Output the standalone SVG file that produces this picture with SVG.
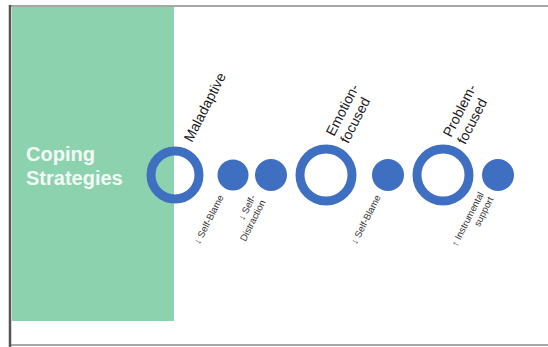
<svg xmlns="http://www.w3.org/2000/svg" width="548" height="347" viewBox="0 0 548 347">
  <style>
    .ring { fill: none; stroke: #3f6fc1; stroke-width: 9; }
    .dot { fill: #3f6fc1; }
    .head { font-family: "Liberation Sans", Arial, sans-serif; font-size: 14px; fill: #1a1a1a; }
    .note { font-family: "Liberation Sans", Arial, sans-serif; font-size: 9.5px; fill: #333; text-anchor: end; }
    .title { font-family: "Liberation Sans", Arial, sans-serif; font-size: 20px; font-weight: bold; fill: #f4fbf6; }
  </style>

  <!-- page frame -->
  <rect x="0" y="0" width="548" height="347" fill="#ffffff"/>
  <rect x="10" y="6" width="545" height="339" fill="#ffffff" stroke="#8a8a8a" stroke-width="1.5"/>
  <line x1="10" y1="5" x2="10" y2="347" stroke="#555" stroke-width="2.5"/>

  <!-- title panel -->
  <g id="panel">
    <rect x="12" y="7" width="162" height="314" fill="#8dd2ae"/>
    <text class="title" x="26" y="161">Coping</text>
    <text class="title" x="26" y="185">Strategies</text>
  </g>

  <!-- strategy groups -->
  <g id="maladaptive">
    <circle class="ring" cx="175" cy="175" r="24"/>
    <text class="head" transform="translate(192,143) rotate(-63)">Maladaptive</text>
  </g>
  <g id="self-blame-1">
    <circle class="dot" cx="233" cy="175" r="15.5"/>
    <text class="note" transform="translate(224,197) rotate(-63)">↓ Self-Blame</text>
  </g>
  <g id="self-distraction">
    <circle class="dot" cx="271" cy="175" r="16"/>
    <text class="note" transform="translate(256,197) rotate(-63)"><tspan x="0" y="0">↓ Self-</tspan><tspan x="0" y="11">Distraction</tspan></text>
  </g>
  <g id="emotion-focused">
    <circle class="ring" cx="326" cy="175" r="26"/>
    <text class="head" transform="translate(334,137) rotate(-63)"><tspan x="0" y="0">Emotion-</tspan><tspan x="0" y="16">focused</tspan></text>
  </g>
  <g id="self-blame-2">
    <circle class="dot" cx="388" cy="175" r="16"/>
    <text class="note" transform="translate(381,197) rotate(-63)">↓ Self-Blame</text>
  </g>
  <g id="problem-focused">
    <circle class="ring" cx="443" cy="175" r="26"/>
    <text class="head" transform="translate(451,138) rotate(-63)"><tspan x="0" y="0">Problem-</tspan><tspan x="0" y="16">focused</tspan></text>
  </g>
  <g id="instrumental-support">
    <circle class="dot" cx="498" cy="175" r="16"/>
    <text class="note" transform="translate(484,194) rotate(-63)"><tspan x="0" y="0">↑ Instrumental</tspan><tspan x="0" y="11">support</tspan></text>
  </g>

  <g id="connectors"/>
</svg>
